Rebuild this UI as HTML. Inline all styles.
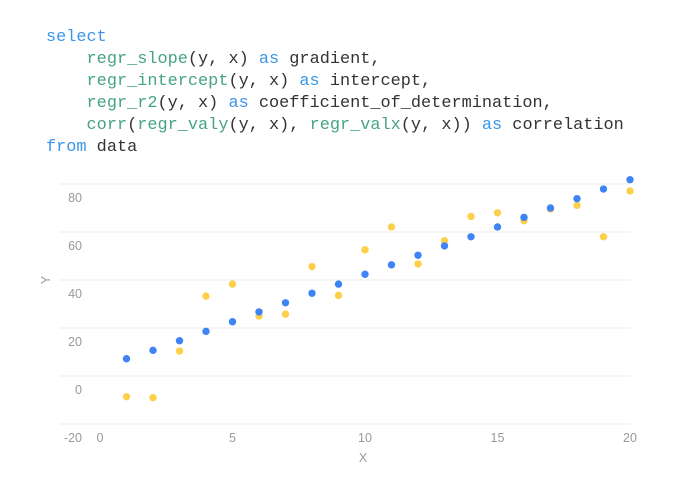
<!DOCTYPE html>
<html><head><meta charset="utf-8">
<style>
html,body{margin:0;padding:0;background:#fff;width:678px;height:501px;overflow:hidden}
pre{position:absolute;left:46px;top:27px;margin:0;font-family:"Liberation Mono",monospace;font-size:16.9px;line-height:22px;color:#333}
.k{color:#3a96e8}.f{color:#46a384}
svg{position:absolute;left:0;top:0}
text{font-family:"Liberation Sans",sans-serif;font-size:12.5px;fill:#999}
</style></head><body>
<pre><span class="k">select</span>
    <span class="f">regr_slope</span>(y, x) <span class="k">as</span> gradient,
    <span class="f">regr_intercept</span>(y, x) <span class="k">as</span> intercept,
    <span class="f">regr_r2</span>(y, x) <span class="k">as</span> coefficient_of_determination,
    <span class="f">corr</span>(<span class="f">regr_valy</span>(y, x), <span class="f">regr_valx</span>(y, x)) <span class="k">as</span> correlation
<span class="k">from</span> data</pre>
<svg id="chart" width="678" height="501"></svg>
<script>
const xs=[1,2,3,4,5,6,7,8,9,10,11,12,13,14,15,16,17,18,19,20];
const blueY=[7.2,10.7,14.7,18.6,22.6,26.7,30.5,34.5,38.3,42.4,46.3,50.3,54.2,58.0,62.1,66.1,70,73.9,77.9,81.8];
const yellowY=[-8.6,-9.0,10.4,33.3,38.3,25,25.8,45.6,33.6,52.6,62.1,46.7,56.3,66.5,68,64.7,69.6,71.1,58,77.1];
const yTicks=[80,60,40,20,0,-20];
const xTicks=[0,5,10,15,20];
const NS="http://www.w3.org/2000/svg";
const svg=document.getElementById('chart');
const sx=v=>100+v*26.5;
const sy=v=>184+(80-v)*2.4;
function mk(t,a){const e=document.createElementNS(NS,t);for(const k in a)e.setAttribute(k,a[k]);svg.appendChild(e);return e;}
yTicks.forEach(v=>{
 const l=mk('line',{x1:59,x2:630,y1:sy(v),y2:sy(v),stroke:'#ebebeb','stroke-width':1});
 
 
 const t=mk('text',{x:82,y:sy(v)+18,'text-anchor':'end'});t.textContent=v;
 
 
});
xTicks.forEach(v=>{
 const t=mk('text',{x:sx(v),y:442,'text-anchor':'middle'});t.textContent=v;
 
 
});
const xt=mk('text',{x:363,y:462,'text-anchor':'middle'});xt.textContent='X';


const yt=mk('text',{x:50,y:280,'text-anchor':'middle',transform:'rotate(-90 50 280)'});yt.textContent='Y';


xs.forEach((x,i)=>{
 const c=mk('circle',{cx:sx(x),cy:sy(yellowY[i]),r:3.7,fill:'#fcd04b'});
 
 
});
xs.forEach((x,i)=>{
 const c=mk('circle',{cx:sx(x),cy:sy(blueY[i]),r:3.7,fill:'#3f84f5'});
 
 
});
</script>
</body></html>
